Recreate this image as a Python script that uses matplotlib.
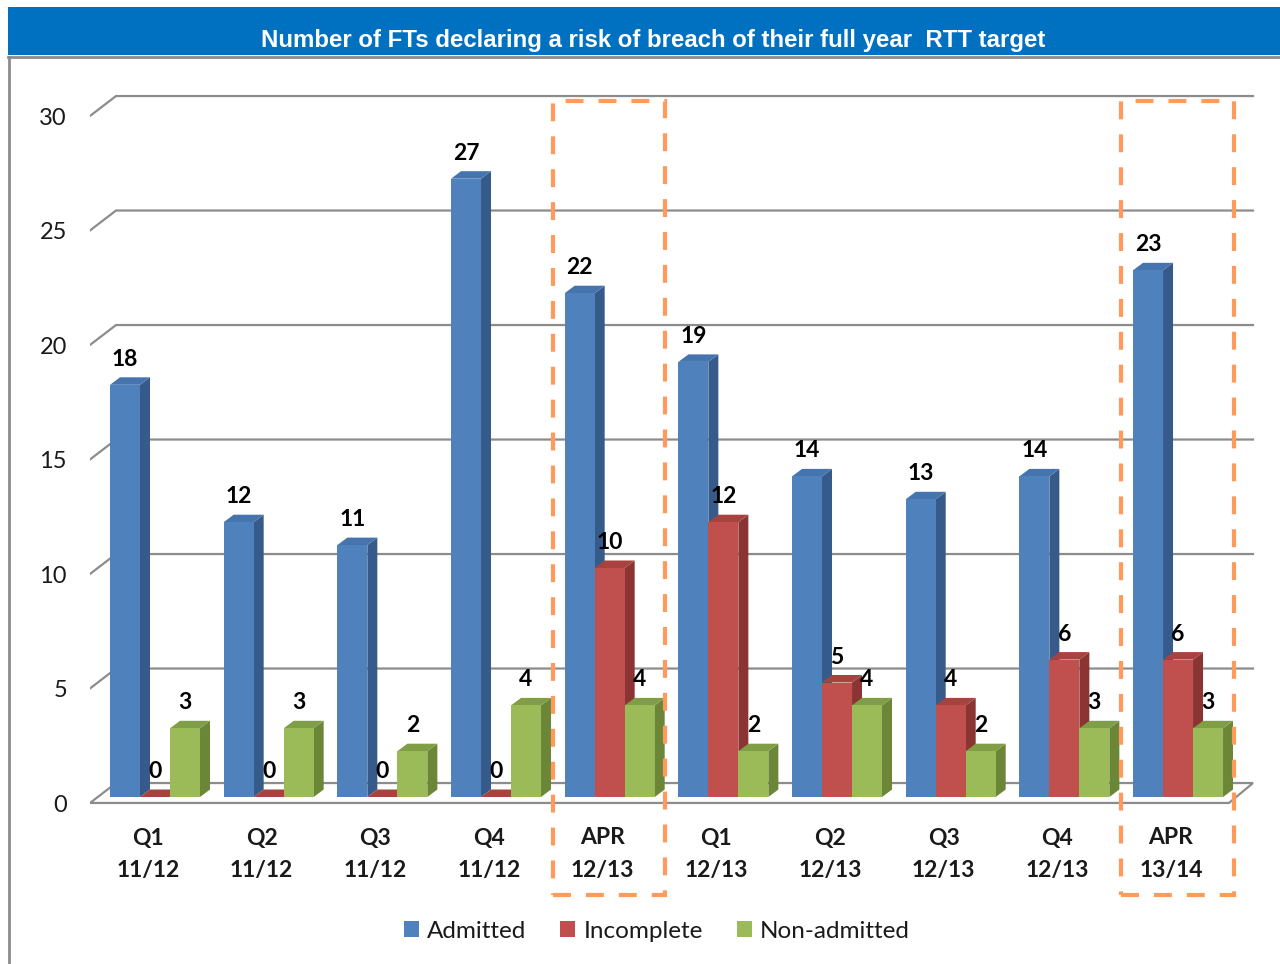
import matplotlib
matplotlib.use("Agg")
import matplotlib.pyplot as plt
from matplotlib.patches import Rectangle, Polygon, Patch
from matplotlib.lines import Line2D

# ---- data ----
period_labels = ["Q1", "Q2", "Q3", "Q4", "APR", "Q1", "Q2", "Q3", "Q4", "APR"]
year_labels = ["11/12", "11/12", "11/12", "11/12", "12/13",
               "12/13", "12/13", "12/13", "12/13", "13/14"]
admitted = [18, 12, 11, 27, 22, 19, 14, 13, 14, 23]
incomplete = [0, 0, 0, 0, 10, 12, 5, 4, 6, 6]
non_admitted = [3, 3, 2, 4, 4, 2, 4, 2, 3, 3]
series_names = ["Admitted", "Incomplete", "Non-admitted"]
y_ticks = [0, 5, 10, 15, 20, 25, 30]
highlighted = [4, 9]
title = "Number of FTs declaring a risk of breach of their full year  RTT target"

# face colours per series: front, top, side
palette = [
    ("#4F81BD", "#4674AE", "#365B8A"),
    ("#C0504D", "#A8423F", "#8A3533"),
    ("#9BBB59", "#809E45", "#6B8637"),
]

FONT = ["Lato", "DejaVu Sans"]
plt.rcParams["font.family"] = FONT

W, H = 1280, 964
fig = plt.figure(figsize=(W / 100, H / 100), dpi=100)
fig.patch.set_facecolor("white")

# ---- axes placed in pixel terms ----
ax_l, ax_r, ax_t, ax_b = 90, 1262, 80, 830
ax = fig.add_axes([ax_l / W, 1 - ax_b / H, (ax_r - ax_l) / W, (ax_b - ax_t) / H])
X0, Y0, XS, YS = 155.0, 797.0, 113.67, 22.9     # origin and px per unit
ax.set_xlim((ax_l - X0) / XS, (ax_r - X0) / XS)
ax.set_ylim((Y0 - ax_b) / YS, (Y0 - ax_t) / YS)
ax.axis("off")

def px_x(p):
    return (p - X0) / XS

def px_y(p):
    return (Y0 - p) / YS

# pseudo-3D geometry
bar_w = 30 / XS
bar_dx, bar_dy = 10 / XS, 7.5 / YS
front_dy = -0.26          # front edge of the floor / wall plane
back_dy = 0.61            # back wall plane
grid_front_x = px_x(90)
grid_back_x = px_x(116)
grid_right_x = px_x(1253)
floor_front_right_x = px_x(1229)

# gridlines on the walls
for v in y_ticks[1:]:
    ax.add_line(Line2D([grid_front_x, grid_back_x, grid_right_x],
                       [v + front_dy, v + back_dy, v + back_dy],
                       color="#8C8C8C", lw=1.6, zorder=1,
                       solid_joinstyle="miter"))

# floor
ax.add_patch(Polygon([(grid_front_x, front_dy), (floor_front_right_x, front_dy),
                      (grid_right_x, back_dy), (grid_back_x, back_dy)],
                     closed=True, facecolor="white", edgecolor="#8C8C8C",
                     lw=1.6, zorder=1.5))

# y tick labels
for v in y_ticks:
    ax.text(px_x(67), v + front_dy - 0.1, str(v), ha="right", va="center",
            fontsize=17, color="#1A1A1A")

# bars, left to right so later ones sit in front of earlier side faces
all_series = [admitted, incomplete, non_admitted]
order = 0
for i in range(len(admitted)):
    for k, values in enumerate(all_series):
        v = values[i]
        front, top, side = palette[k]
        xc = i + (k - 1) * bar_w
        xl, xr = xc - bar_w / 2, xc + bar_w / 2
        z = 3 + order * 0.01
        order += 1
        ax.bar(xc, v, width=bar_w, bottom=0, color=front, edgecolor="none",
               zorder=z + 0.003)
        ax.add_patch(Polygon([(xr, 0), (xr + bar_dx, bar_dy),
                              (xr + bar_dx, v + bar_dy), (xr, v)],
                             closed=True, facecolor=side, edgecolor="none",
                             zorder=z + 0.001))
        ax.add_patch(Polygon([(xl, v), (xr, v), (xr + bar_dx, v + bar_dy),
                              (xl + bar_dx, v + bar_dy)],
                             closed=True, facecolor=top, edgecolor="none",
                             zorder=z + 0.002))

# value labels
for i in range(len(admitted)):
    for k, values in enumerate(all_series):
        v = values[i]
        xc = i + (k - 1) * bar_w
        ax.text(xc, v + bar_dy + 0.50, str(v), ha="center", va="baseline",
                fontsize=16.5, fontweight="bold", color="black", zorder=10)

# category labels
for i, (p, y) in enumerate(zip(period_labels, year_labels)):
    ax.text(i - 7 / XS, px_y(838), p, ha="center", va="center",
            fontsize=16.5, fontweight="bold", color="#1A1A1A", clip_on=False)
    ax.text(i - 7 / XS, px_y(870), y, ha="center", va="center",
            fontsize=16.5, fontweight="bold", color="#1A1A1A", clip_on=False)

# dashed boxes around the April periods
for c in highlighted:
    y_top, y_bot = px_y(101), px_y(895)
    ax.add_patch(Rectangle((c - 0.5, y_bot), 0.99, y_top - y_bot,
                           fill=False, edgecolor="#FF9A5A", lw=3,
                           linestyle=(0, (4.3, 3.6)), zorder=20,
                           clip_on=False))

# legend
handles = [Patch(facecolor=palette[k][0], edgecolor="none") for k in range(3)]
fig.legend(handles, series_names, loc="center",
           bbox_to_anchor=(657 / W, 1 - 931 / H), ncol=3, frameon=False,
           fontsize=17.5, handlelength=0.6, handleheight=0.6,
           handletextpad=0.35, columnspacing=1.4, labelcolor="#1A1A1A")

# title banner and frame
fig.add_artist(Rectangle((8 / W, 1 - 55 / H), 1 - 8 / W, 48 / H,
                         transform=fig.transFigure, facecolor="#0070C0",
                         edgecolor="none", zorder=0))
fig.add_artist(Line2D([8 / W, 1], [1 - 57 / H, 1 - 57 / H],
                      transform=fig.transFigure, color="#8C8C8C", lw=2))
fig.add_artist(Line2D([9 / W, 9 / W], [1 - 57 / H, 0],
                      transform=fig.transFigure, color="#8C8C8C", lw=2))
fig.text(653 / W, 1 - 40 / H, title, ha="center", va="center", color="white",
         fontsize=17.3, fontweight="bold", family=["Liberation Sans", "DejaVu Sans"])

fig.savefig("out.png", dpi=100, facecolor="white")
